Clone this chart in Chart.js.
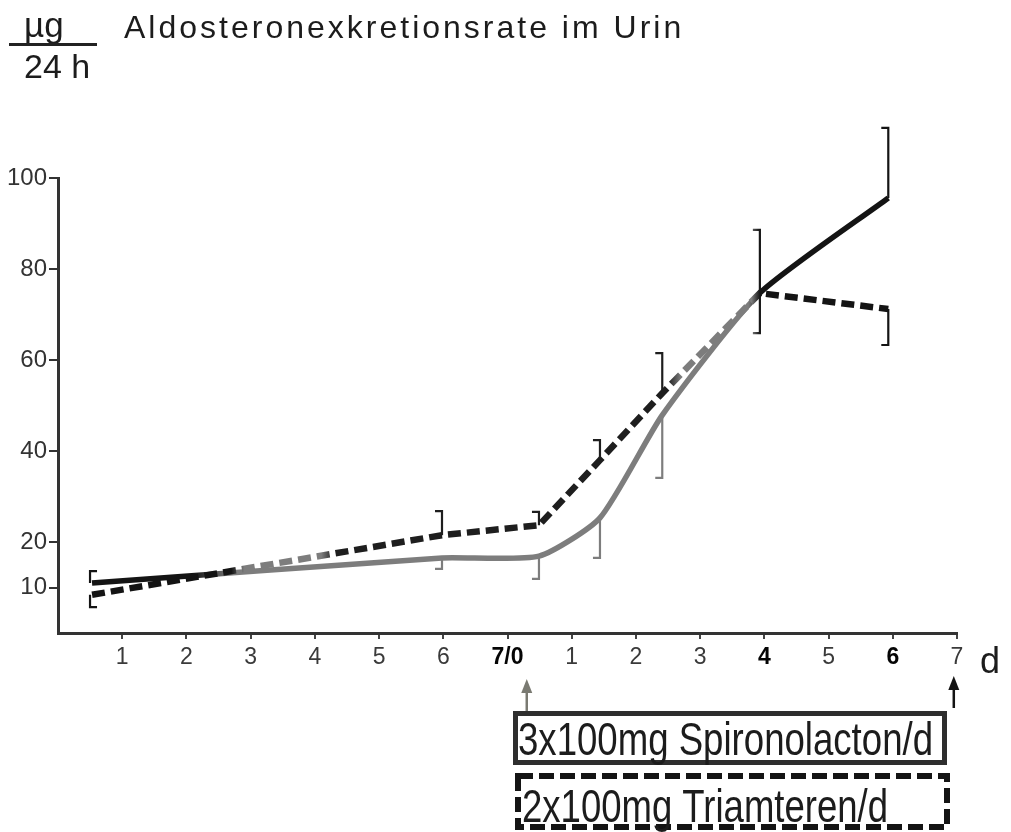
<!DOCTYPE html>
<html>
<head>
<meta charset="utf-8">
<script src="https://cdn.jsdelivr.net/npm/chart.js@4"></script>
<style>
  html, body { margin: 0; padding: 0; background: #fff; }
  #wrap { position: relative; width: 1011px; height: 832px; overflow: hidden; }
  #wrap canvas { position: absolute; left: 0; top: 0; }
  .txt { position: absolute; font-family: "Liberation Sans", Arial, sans-serif; color: #1c1c1c; white-space: nowrap; line-height: 1; }
  #frac { position: absolute; left: 9px; top: 43px; width: 88px; height: 3px; background: #222; }
</style>
</head>
<body>
<div id="wrap">
  <canvas id="chart" width="1011" height="832"></canvas>
  <div class="txt" id="unitTop" style="left:24px; top:7px; font-size:35px;">µg</div>
  <div id="frac"></div>
  <div class="txt" id="unitBottom" style="left:24px; top:49px; font-size:34px;">24 h</div>
  <div class="txt" id="title" style="left:124px; top:11px; font-size:32px; letter-spacing:3px;">Aldosteronexkretionsrate im Urin</div>
</div>
<script>
// Collection days on one continuous axis: 7 control days, then 7 treatment days (7/0 is the switch)
const dayPos = [0.53, 5.98, 7.49, 8.44, 9.41, 10.93, 12.93];
const xTickLabels = ['1', '2', '3', '4', '5', '6', '7/0', '1', '2', '3', '4', '5', '6', '7'];
const xBoldLabels = [7, 11, 13];
const yTickValues = [10, 20, 40, 60, 80, 100];

// Aldosterone excretion, µg / 24 h
const spironolacton    = [11.0, 16.5, 16.9, 25.3, 47.9, 74.7, 95.6];
const spironolactonErr = [13.6, 14.1, 11.9, 16.5, 34.1, 88.6, 111.0];
const triamteren       = [8.4, 21.5, 23.7, 38.0, 52.7, 74.7, 71.2];
const triamterenErr    = [5.7, 26.8, 26.6, 42.4, 61.5, 65.9, 63.3];

const xUnit = 'd';
const treatmentLabels = ['3x100mg Spironolacton/d', '2x100mg Triamteren/d'];
const treatmentArrows = [7.3, 13.95];

const FONT = '"Liberation Sans", Arial, sans-serif';
const INK = '#141414';
const GREY = '#7d7d7d';

// print tone along the curves (day position -> colour)
const solidTone = [[0, INK], [2.1, INK], [2.7, GREY], [10.75, GREY], [10.93, INK], [14, INK]];
const dashTone = [[0, INK], [2.7, INK], [2.9, GREY], [4.1, GREY], [4.3, '#1e1e1e'], [9.5, '#1e1e1e'],
                  [9.7, GREY], [10.8, GREY], [10.93, INK], [14, INK]];

function toneGradient(chart, stops) {
  const xs = chart.scales.x;
  if (!chart.chartArea || !xs) return INK;
  const x0 = xs.getPixelForValue(0), x1 = xs.getPixelForValue(14);
  const g = chart.ctx.createLinearGradient(x0, 0, x1, 0);
  stops.forEach(([v, c]) => g.addColorStop(Math.min(1, Math.max(0, v / 14)), c));
  return g;
}

const points = (ys) => dayPos.map((x, i) => ({ x, y: ys[i] }));

// one-sided SEM brackets: "[" on the first point, "]" on the others
const errorBars = {
  id: 'errorBars',
  afterDatasetsDraw(chart) {
    const { ctx, scales: { x, y } } = chart;
    ctx.save();
    chart.data.datasets.forEach((ds) => {
      ctx.strokeStyle = toneGradient(chart, ds.tone);
      ctx.lineWidth = 2.2;
      ctx.lineCap = 'butt';
      ds.data.forEach((p, i) => {
        const px = x.getPixelForValue(p.x);
        const py = y.getPixelForValue(p.y);
        const pe = y.getPixelForValue(ds.errorEnds[i]);
        const dir = i === 0 ? 1 : -1;
        const bx = i === 0 ? px - 2 : px;
        ctx.beginPath();
        ctx.moveTo(bx, py);
        ctx.lineTo(bx, pe);
        ctx.lineTo(bx + dir * 7, pe);
        ctx.stroke();
      });
    });
    ctx.restore();
  }
};

function arrow(ctx, x, yTail, yTip, color) {
  ctx.strokeStyle = color;
  ctx.fillStyle = color;
  ctx.lineWidth = 2.5;
  ctx.beginPath();
  ctx.moveTo(x, yTail);
  ctx.lineTo(x, yTip + 8);
  ctx.stroke();
  ctx.beginPath();
  ctx.moveTo(x, yTip);
  ctx.lineTo(x - 5.5, yTip + 14);
  ctx.lineTo(x + 5.5, yTip + 14);
  ctx.closePath();
  ctx.fill();
}

// unit label, treatment arrows and the two treatment boxes below the axis
const annotations = {
  id: 'annotations',
  afterDraw(chart) {
    const { ctx, scales: { x } } = chart;
    ctx.save();
    ctx.fillStyle = '#1c1c1c';
    ctx.font = '36px ' + FONT;
    ctx.textAlign = 'center';
    ctx.textBaseline = 'alphabetic';
    ctx.fillText(xUnit, 990, 673);

    arrow(ctx, x.getPixelForValue(treatmentArrows[0]), 711, 679, '#7a7a72');
    arrow(ctx, x.getPixelForValue(treatmentArrows[1]), 708, 676, INK);

    // Spironolacton: solid frame
    ctx.setLineDash([]);
    ctx.lineWidth = 5;
    ctx.strokeStyle = '#2e2e2e';
    ctx.strokeRect(515.5, 713.5, 429, 49);
    // Triamteren: dashed frame
    ctx.setLineDash([15, 6]);
    ctx.lineWidth = 6;
    ctx.strokeStyle = INK;
    ctx.strokeRect(518, 776, 429, 51);
    ctx.setLineDash([]);

    ctx.textAlign = 'left';
    ctx.fillStyle = '#1c1c1c';
    ctx.font = '46px ' + FONT;
    ctx.fillText(treatmentLabels[0], 518, 755, 415);
    ctx.fillText(treatmentLabels[1], 522, 822, 366);
    ctx.restore();
  }
};

Chart.defaults.font.family = FONT;

new Chart(document.getElementById('chart'), {
  type: 'line',
  data: {
    datasets: [
      {
        label: 'Triamteren',
        data: points(triamteren),
        errorEnds: triamterenErr,
        tone: dashTone,
        borderColor: (c) => toneGradient(c.chart, dashTone),
        borderWidth: 6.5,
        borderDash: [13, 6],
        borderCapStyle: 'butt',
        tension: 0,
        pointRadius: 0,
        fill: false,
        clip: false
      },
      {
        label: 'Spironolacton',
        data: points(spironolacton),
        errorEnds: spironolactonErr,
        tone: solidTone,
        borderColor: (c) => toneGradient(c.chart, solidTone),
        borderWidth: 5.5,
        tension: 0.2,
        borderCapStyle: 'butt',
        pointRadius: 0,
        fill: false,
        clip: false
      }
    ]
  },
  options: {
    responsive: false,
    animation: false,
    layout: { padding: { top: 178, right: 54, bottom: 0, left: 0 } },
    plugins: { legend: { display: false }, tooltip: { enabled: false } },
    scales: {
      x: {
        type: 'linear',
        min: 0,
        max: 14,
        afterBuildTicks: (axis) => { axis.ticks = xTickLabels.map((_, i) => ({ value: i + 1 })); },
        afterFit: (s) => { s.height = 199; },
        ticks: {
          autoSkip: false,
          maxRotation: 0,
          padding: 5,
          callback: (v) => xTickLabels[v - 1] ?? '',
          color: (c) => xBoldLabels.includes(c.index + 1) ? '#050505' : '#3a3a3a',
          font: (c) => ({ size: 23, weight: xBoldLabels.includes(c.index + 1) ? 'bold' : 'normal' })
        },
        grid: { drawOnChartArea: false, drawTicks: true, tickLength: 6, lineWidth: 2, color: '#444' },
        border: { display: true, color: '#333', width: 3 }
      },
      y: {
        min: 0,
        max: 100,
        afterBuildTicks: (axis) => { axis.ticks = yTickValues.map((v) => ({ value: v })); },
        afterFit: (s) => { s.width = 58; },
        ticks: { padding: 2, color: '#333', font: { size: 24 } },
        grid: { drawOnChartArea: false, drawTicks: true, tickLength: 9, lineWidth: 2, color: '#333' },
        border: { display: true, color: '#333', width: 3 }
      }
    }
  },
  plugins: [errorBars, annotations]
});
</script>
</body>
</html>
